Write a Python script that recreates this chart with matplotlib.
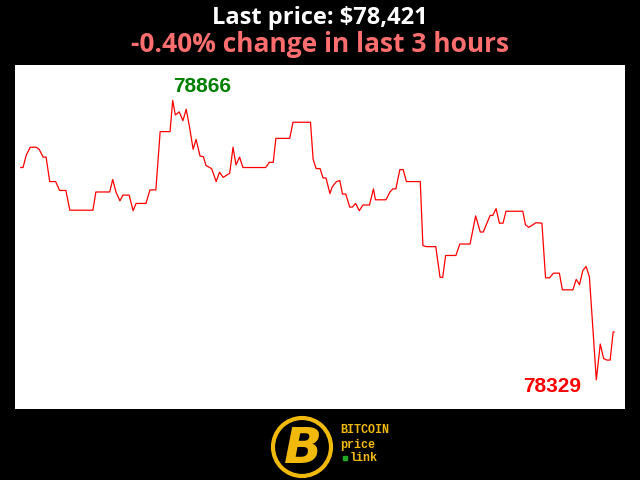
import matplotlib
matplotlib.use("Agg")
import matplotlib.pyplot as plt
from matplotlib.patches import Circle

# minutes since start of the 3 hour window, and BTC price at each turning point
minutes = [0, 0.7, 1.7, 2.9, 4.7, 5.6, 6.8, 7.7, 8.8, 10.6, 11.8, 13.7, 14.9, 21.9,
           22.8, 27.0, 27.9, 28.9, 30.1, 31.0, 32.9, 34.1, 35.0, 38.0, 39.2, 41.0,
           42.3, 45.3, 46.1, 46.9, 48.1, 49.2, 50.2, 51.2, 52.3, 53.2, 54.4, 55.4,
           56.2, 57.9, 59.3, 60.3, 61.4, 63.4, 64.4, 65.3, 66.4, 67.4, 74.3, 75.4,
           76.6, 77.4, 81.6, 82.6, 87.9, 88.7, 89.6, 90.8, 91.7, 92.6, 93.8, 94.5,
           95.8, 96.8, 97.6, 98.6, 99.8, 100.6, 101.6, 102.7, 103.8, 105.8, 107.0,
           107.6, 110.8, 112.0, 112.9, 113.8, 115.0, 116.0, 117.0, 121.2, 122.0,
           123.0, 125.9, 127.2, 128.0, 128.9, 132.0, 133.2, 136.3, 138.0, 139.4,
           140.3, 142.4, 143.2, 144.2, 145.2, 146.3, 147.2, 152.3, 153.1, 154.1,
           155.1, 156.3, 158.1, 159.2, 160.4, 161.6, 163.4, 164.3, 167.5, 168.5,
           169.5, 170.5, 171.5, 172.5, 174.6, 175.8, 176.8, 177.8, 178.8, 179.7, 180]
prices = [78737, 78737, 78761, 78776, 78776, 78772, 78757, 78757, 78710, 78710,
          78693, 78693, 78655, 78655, 78690, 78690, 78714, 78690, 78673, 78684,
          78684, 78654, 78668, 78668, 78694, 78694, 78806, 78806, 78866, 78838,
          78844, 78827, 78849, 78815, 78772, 78791, 78759, 78758, 78741, 78735,
          78710, 78728, 78718, 78726, 78776, 78742, 78757, 78737, 78737, 78747,
          78747, 78793, 78793, 78824, 78824, 78753, 78735, 78735, 78717, 78717,
          78687, 78700, 78710, 78712, 78686, 78686, 78661, 78661, 78668, 78654,
          78665, 78665, 78696, 78675, 78675, 78690, 78696, 78696, 78733, 78733,
          78710, 78710, 78587, 78585, 78585, 78526, 78526, 78568, 78568, 78590,
          78590, 78644, 78613, 78613, 78645, 78645, 78658, 78630, 78630, 78653,
          78653, 78627, 78622, 78626, 78631, 78630, 78525, 78525, 78534, 78534,
          78502, 78502, 78522, 78512, 78539, 78547, 78527, 78329, 78398, 78370,
          78367, 78367, 78421, 78421]

last_price = 78421
change_pct = -0.40

fig = plt.figure(figsize=(6.4, 4.8), dpi=100, facecolor="black")
ax = fig.add_axes([15 / 640, 71 / 480, 610 / 640, 344 / 480])
ax.set_facecolor("white")
ax.plot(minutes, prices, color="red", linewidth=0.9)
ax.set_xlim(-1.73, 183.3)
ax.set_ylim(78273, 78934)
ax.set_xticks([])
ax.set_yticks([])
for s in ax.spines.values():
    s.set_visible(False)

hi = prices.index(max(prices))
lo = prices.index(min(prices))
ax.annotate(str(max(prices)), (minutes[hi], prices[hi]), xytext=(0, 5.8),
            textcoords="offset points", ha="left", va="baseline",
            color="green", fontsize=15, fontweight="bold", family="Liberation Sans")
ax.annotate(str(min(prices)), (minutes[lo], prices[lo]), xytext=(-11, -8.6),
            textcoords="offset points", ha="right", va="baseline",
            color="red", fontsize=15, fontweight="bold", family="Liberation Sans")

fig.text(0.5, 1 - 24 / 480, f"Last price: ${last_price:,}", ha="center", va="baseline",
         color="white", fontsize=17, fontweight="bold", family="Open Sans")
fig.text(0.5, 1 - 52 / 480, f"{change_pct:.2f}% change in last 3 hours", ha="center",
         va="baseline", color="#ff6e6e", fontsize=19, fontweight="bold", family="Open Sans")

# logo
gold = "#f0b90b"
lg = fig.add_axes([0, 0, 1, 1], zorder=-1)
lg.set_xlim(0, 640)
lg.set_ylim(480, 0)
lg.axis("off")
lg.add_patch(Circle((302, 447), 29, facecolor="black", edgecolor=gold, linewidth=3))
lg.text(303, 449, "B", ha="center", va="center", color=gold, fontsize=36,
        fontweight="bold", fontstyle="italic", family="DejaVu Sans")
for txt, x, y in [("BITCOIN", 340, 430), ("price", 340, 445), ("link", 350, 458)]:
    lg.text(x, y, txt, ha="left", va="center", color=gold,
            fontsize=8.5, fontweight="bold", family="Liberation Mono")
lg.plot([345], [458], marker="s", markersize=2.5, color="#22aa22")

fig.savefig("out.png", dpi=100, facecolor="black")
